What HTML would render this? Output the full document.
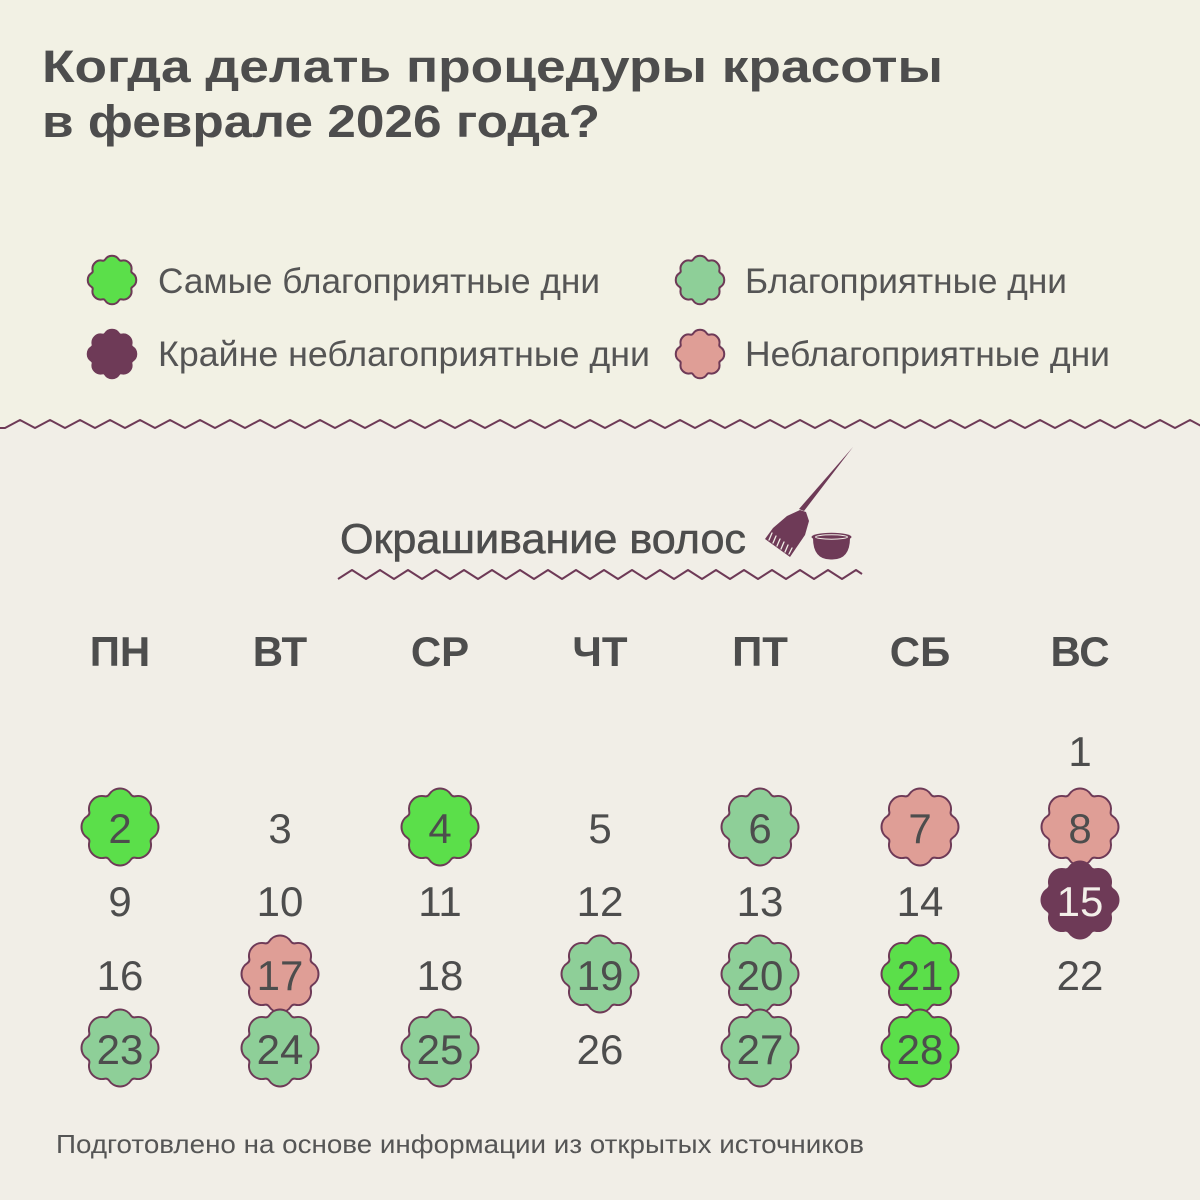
<!DOCTYPE html>
<html><head><meta charset="utf-8"><style>
html,body{margin:0;padding:0;background:#f1eee7;}
svg{display:block;}
text{font-family:"Liberation Sans","Noto Sans CJK SC",sans-serif;}
</style></head><body>
<svg width="1200" height="1200" viewBox="0 0 1200 1200" xmlns="http://www.w3.org/2000/svg">
<defs>
<path id="b" d="M-10.94,-32.52 A13,13 0 0 1 10.94,-32.52 A4.09,4.09 0 0 0 15.26,-30.73 A13,13 0 0 1 30.73,-15.26 A4.09,4.09 0 0 0 32.52,-10.94 A13,13 0 0 1 32.52,10.94 A4.09,4.09 0 0 0 30.73,15.26 A13,13 0 0 1 15.26,30.73 A4.09,4.09 0 0 0 10.94,32.52 A13,13 0 0 1 -10.94,32.52 A4.09,4.09 0 0 0 -15.26,30.73 A13,13 0 0 1 -30.73,15.26 A4.09,4.09 0 0 0 -32.52,10.94 A13,13 0 0 1 -32.52,-10.94 A4.09,4.09 0 0 0 -30.73,-15.26 A13,13 0 0 1 -15.26,-30.73 A4.09,4.09 0 0 0 -10.94,-32.52 Z"/>
</defs>
<rect x="0" y="0" width="1200" height="1200" fill="#f2f1e4"/>
<path d="M-10,428 L5,428 L20,420 L35,428 L50,420 L65,428 L80,420 L95,428 L110,420 L125,428 L140,420 L155,428 L170,420 L185,428 L200,420 L215,428 L230,420 L245,428 L260,420 L275,428 L290,420 L305,428 L320,420 L335,428 L350,420 L365,428 L380,420 L395,428 L410,420 L425,428 L440,420 L455,428 L470,420 L485,428 L500,420 L515,428 L530,420 L545,428 L560,420 L575,428 L590,420 L605,428 L620,420 L635,428 L650,420 L665,428 L680,420 L695,428 L710,420 L725,428 L740,420 L755,428 L770,420 L785,428 L800,420 L815,428 L830,420 L845,428 L860,420 L875,428 L890,420 L905,428 L920,420 L935,428 L950,420 L965,428 L980,420 L995,428 L1010,420 L1025,428 L1040,420 L1055,428 L1070,420 L1085,428 L1100,420 L1115,428 L1130,420 L1145,428 L1160,420 L1175,428 L1190,420 L1205,428 L1220,420 L1220,1210 L-10,1210 Z" fill="#f1eee7"/>
<polyline fill="none" stroke="#6e3a57" stroke-width="2" stroke-linejoin="round" points="-10,428 5,428 20,420 35,428 50,420 65,428 80,420 95,428 110,420 125,428 140,420 155,428 170,420 185,428 200,420 215,428 230,420 245,428 260,420 275,428 290,420 305,428 320,420 335,428 350,420 365,428 380,420 395,428 410,420 425,428 440,420 455,428 470,420 485,428 500,420 515,428 530,420 545,428 560,420 575,428 590,420 605,428 620,420 635,428 650,420 665,428 680,420 695,428 710,420 725,428 740,420 755,428 770,420 785,428 800,420 815,428 830,420 845,428 860,420 875,428 890,420 905,428 920,420 935,428 950,420 965,428 980,420 995,428 1010,420 1025,428 1040,420 1055,428 1070,420 1085,428 1100,420 1115,428 1130,420 1145,428 1160,420 1175,428 1190,420 1205,428 1220,420"/>

<text x="42" y="82" font-size="45" font-weight="bold" fill="#4d4d4d" textLength="901" lengthAdjust="spacingAndGlyphs">Когда делать процедуры красоты</text>
<text x="42" y="137" font-size="45" font-weight="bold" fill="#4d4d4d" textLength="558" lengthAdjust="spacingAndGlyphs">в феврале 2026 года?</text>

<g stroke="#6e3a57" stroke-width="3.2">
<use href="#b" transform="translate(112,280) scale(0.63)" fill="#5bdf4a"/>
<use href="#b" transform="translate(112,354) scale(0.63)" fill="#6e3a57"/>
<use href="#b" transform="translate(700,280) scale(0.63)" fill="#8ecf98"/>
<use href="#b" transform="translate(700,354) scale(0.63)" fill="#df9e96"/>
</g>
<g font-size="35" fill="#555555">
<text x="158" y="293" textLength="442" lengthAdjust="spacingAndGlyphs">Самые благоприятные дни</text>
<text x="158" y="366" textLength="492" lengthAdjust="spacingAndGlyphs">Крайне неблагоприятные дни</text>
<text x="745" y="293" textLength="322" lengthAdjust="spacingAndGlyphs">Благоприятные дни</text>
<text x="745" y="366" textLength="365" lengthAdjust="spacingAndGlyphs">Неблагоприятные дни</text>
</g>

<text x="340" y="553" font-size="42" fill="#4d4d4d" stroke="#4d4d4d" stroke-width="0.6" textLength="406" lengthAdjust="spacingAndGlyphs">Окрашивание волос</text>
<polyline fill="none" stroke="#6e3a57" stroke-width="2" stroke-linejoin="round" points="338,579 352,570 366,579 380,570 394,579 408,570 422,579 436,570 450,579 464,570 478,579 492,570 506,579 520,570 534,579 548,570 562,579 576,570 590,579 604,570 618,579 632,570 646,579 660,570 674,579 688,570 702,579 716,570 730,579 744,570 758,579 772,570 786,579 800,570 814,579 828,570 842,579 856,570 862,574"/>

<g fill="#6e3a57">
<path d="M853,447 L804,511 L799,509 Z"/>
<path d="M765,539 L773,528 L787,516 L800,510 L806,512 L809,521 L805,535 L790,557 Z"/>
<g stroke="#f1eee7" stroke-width="1.3" stroke-linecap="round">
<line x1="772" y1="533" x2="769" y2="540"/>
<line x1="776" y1="536" x2="773" y2="543"/>
<line x1="780" y1="539" x2="777" y2="546"/>
<line x1="784" y1="542" x2="781" y2="549"/>
<line x1="788" y1="545" x2="785" y2="552"/>
<line x1="792" y1="548" x2="789" y2="554"/>
</g>
<path d="M813,538 Q813,560 831.5,559.5 Q850,560 850,538 Z"/>
<ellipse cx="831.5" cy="537" rx="20" ry="4.2"/>
<ellipse cx="831.5" cy="537" rx="16" ry="2.2" fill="none" stroke="#f1eee7" stroke-width="1"/>
</g>

<g font-size="42" font-weight="bold" fill="#4d4d4d" text-anchor="middle">
<text x="120" y="666">ПН</text>
<text x="280" y="666">ВТ</text>
<text x="440" y="666">СР</text>
<text x="600" y="666">ЧТ</text>
<text x="760" y="666">ПТ</text>
<text x="920" y="666">СБ</text>
<text x="1080" y="666">ВС</text>
</g>

<g stroke="#6e3a57" stroke-width="2">
<use href="#b" x="120" y="827" fill="#5bdf4a"/>
<use href="#b" x="440" y="827" fill="#5bdf4a"/>
<use href="#b" x="760" y="827" fill="#8ecf98"/>
<use href="#b" x="920" y="827" fill="#df9e96"/>
<use href="#b" x="1080" y="827" fill="#df9e96"/>
<use href="#b" x="1080" y="900" fill="#6e3a57"/>
<use href="#b" x="280" y="974" fill="#df9e96"/>
<use href="#b" x="600" y="974" fill="#8ecf98"/>
<use href="#b" x="760" y="974" fill="#8ecf98"/>
<use href="#b" x="920" y="974" fill="#5bdf4a"/>
<use href="#b" x="120" y="1048" fill="#8ecf98"/>
<use href="#b" x="280" y="1048" fill="#8ecf98"/>
<use href="#b" x="440" y="1048" fill="#8ecf98"/>
<use href="#b" x="760" y="1048" fill="#8ecf98"/>
<use href="#b" x="920" y="1048" fill="#5bdf4a"/>
</g>

<g font-size="42" fill="#4d4d4d" text-anchor="middle">
<text x="1080" y="766">1</text>
<text x="120" y="843">2</text><text x="280" y="843">3</text><text x="440" y="843">4</text><text x="600" y="843">5</text><text x="760" y="843">6</text><text x="920" y="843">7</text><text x="1080" y="843">8</text>
<text x="120" y="916">9</text><text x="280" y="916">10</text><text x="440" y="916">11</text><text x="600" y="916">12</text><text x="760" y="916">13</text><text x="920" y="916">14</text><text x="1080" y="916" fill="#f3efe9">15</text>
<text x="120" y="990">16</text><text x="280" y="990">17</text><text x="440" y="990">18</text><text x="600" y="990">19</text><text x="760" y="990">20</text><text x="920" y="990">21</text><text x="1080" y="990">22</text>
<text x="120" y="1064">23</text><text x="280" y="1064">24</text><text x="440" y="1064">25</text><text x="600" y="1064">26</text><text x="760" y="1064">27</text><text x="920" y="1064">28</text>
</g>

<text x="56" y="1153" font-size="26" fill="#555555" textLength="808" lengthAdjust="spacingAndGlyphs">Подготовлено на основе информации из открытых источников</text>
</svg>
</body></html>
